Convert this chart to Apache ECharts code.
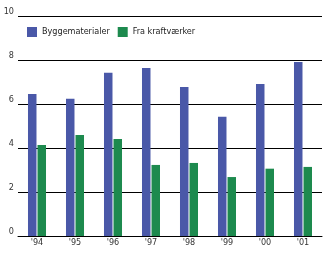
<!DOCTYPE html>
<html>
<head>
<meta charset="utf-8">
<script src="https://cdn.jsdelivr.net/npm/echarts@6/dist/echarts.min.js"></script>
<style>
  html, body { margin: 0; padding: 0; background: #fff; }
  #chart { width: 335px; height: 254px; }
</style>
</head>
<body>
<div id="chart"></div>
<script>
  // data
  var years = ["'94", "'95", "'96", "'97", "'98", "'99", "'00", "'01"];
  var byggematerialer = [6.45, 6.24, 7.42, 7.64, 6.77, 5.42, 6.91, 7.91];
  var kraftvaerker = [4.14, 4.59, 4.41, 3.23, 3.32, 2.68, 3.06, 3.14];

  var font = 'DejaVu Sans Condensed';
  var chart = echarts.init(document.getElementById('chart'));
  chart.setOption({
    animation: false,
    textStyle: { fontFamily: font },
    legend: {
      left: 22,
      top: 22,
      itemWidth: 10,
      itemHeight: 10,
      itemGap: 8,
      icon: 'rect',
      textStyle: { fontFamily: font, fontSize: 9, color: '#222' },
      data: ['Byggematerialer', 'Fra kraftværker']
    },
    grid: { left: 18, right: 13, top: 16, bottom: 18 },
    xAxis: {
      type: 'category',
      data: years,
      axisLine: { show: true, lineStyle: { color: '#000', width: 1 } },
      axisTick: { show: false },
      axisLabel: { margin: 2, fontSize: 9, color: '#333', fontFamily: font }
    },
    yAxis: {
      type: 'value',
      min: 0,
      max: 10,
      interval: 2,
      axisLine: { show: false },
      axisTick: { show: false },
      splitLine: { lineStyle: { color: '#000', width: 1 } },
      axisLabel: { margin: 4, fontSize: 9, color: '#333', fontFamily: font, verticalAlign: 'bottom' }
    },
    series: [
      {
        name: 'Byggematerialer',
        type: 'bar',
        data: byggematerialer,
        barWidth: 8.5,
        barGap: '12%',
        itemStyle: { color: '#4a58a8' }
      },
      {
        name: 'Fra kraftværker',
        type: 'bar',
        data: kraftvaerker,
        barWidth: 8.5,
        itemStyle: { color: '#1d8a4e' }
      }
    ]
  });
</script>
</body>
</html>
